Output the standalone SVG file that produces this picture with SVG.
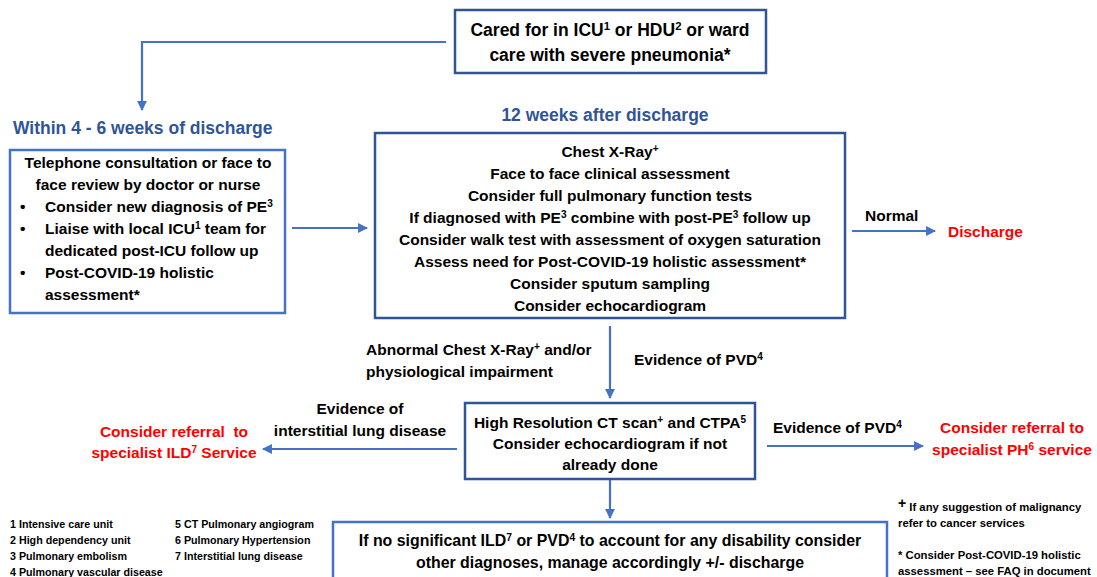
<svg xmlns="http://www.w3.org/2000/svg" width="1097" height="577" viewBox="0 0 1097 577">
<style>
text{font-family:"Liberation Sans",Arial,sans-serif;font-weight:bold;fill:#000}
.m{font-size:15.5px}
.c{text-anchor:middle}
.big{font-size:17.5px}
.bot{font-size:15.9px}
.title{font-size:17.5px;fill:#2F5597}
.red{fill:#FF0000;font-size:15.5px}
.fn{font-size:10.7px}
.fr{font-size:11.3px}
.sup{baseline-shift:super;font-size:65%}
.box{fill:#fff;stroke:#2F5597;stroke-width:2.5}
.box2{fill:#fff;stroke:#4472C4;stroke-width:2.5}
.ln{fill:none;stroke:#4472C4;stroke-width:2.2}
</style>
<defs>
<marker id="ah" viewBox="0 0 10 10" refX="9" refY="5" markerWidth="4.5" markerHeight="4.5" orient="auto" markerUnits="strokeWidth">
<path d="M0,0 L10,5 L0,10 z" fill="#4472C4"/>
</marker>
</defs>
<rect width="1097" height="577" fill="#fff"/>

<g id="connectors">
<polyline class="ln" points="446,42 142,42 142,110" marker-end="url(#ah)"/>
<line class="ln" x1="292" y1="228" x2="367" y2="228" marker-end="url(#ah)"/>
<line class="ln" x1="852" y1="231" x2="935" y2="231" marker-end="url(#ah)"/>
<line class="ln" x1="610" y1="326" x2="610" y2="398" marker-end="url(#ah)"/>
<line class="ln" x1="457" y1="449" x2="263" y2="449" marker-end="url(#ah)"/>
<line class="ln" x1="767" y1="446" x2="923" y2="446" marker-end="url(#ah)"/>
<line class="ln" x1="610" y1="479" x2="610" y2="518" marker-end="url(#ah)"/>
<text class="m" x="865" y="221">Normal</text>
<text class="m" x="366" y="355">Abnormal Chest X-Ray<tspan class="sup">+</tspan> and/or</text>
<text class="m" x="366" y="377">physiological impairment</text>
<text class="m" x="634" y="365">Evidence of PVD<tspan class="sup">4</tspan></text>
<text class="m c" x="360" y="414">Evidence of</text>
<text class="m c" x="360" y="436">interstitial lung disease</text>
<text class="m" x="773" y="433">Evidence of PVD<tspan class="sup">4</tspan></text>
</g>

<g id="start">
<rect class="box" x="455" y="10" width="311" height="63"/>
<text class="big c" x="610" y="36">Cared for in ICU<tspan class="sup">1</tspan> or HDU<tspan class="sup">2</tspan> or ward</text>
<text class="big c" x="610" y="61">care with severe pneumonia*</text>
</g>

<g id="early">
<text class="title" x="13" y="134">Within 4 - 6 weeks of discharge</text>
<rect class="box2" x="10" y="150" width="275" height="163"/>
<text class="m c" x="148" y="168">Telephone consultation or face to</text>
<text class="m c" x="148" y="190">face review by doctor or nurse</text>
<text class="m" x="20" y="212">•</text>
<text class="m" x="45" y="212">Consider new diagnosis of PE<tspan class="sup">3</tspan></text>
<text class="m" x="20" y="234">•</text>
<text class="m" x="45" y="234">Liaise with local ICU<tspan class="sup">1</tspan> team for</text>
<text class="m" x="45" y="256">dedicated post-ICU follow up</text>
<text class="m" x="20" y="278">•</text>
<text class="m" x="45" y="278">Post-COVID-19 holistic</text>
<text class="m" x="45" y="300">assessment*</text>
</g>

<g id="week12">
<text class="title c" x="605" y="121">12 weeks after discharge</text>
<rect class="box" x="375" y="133" width="470" height="185"/>
<text class="m c" x="610" y="157">Chest X-Ray<tspan class="sup">+</tspan></text>
<text class="m c" x="610" y="179">Face to face clinical assessment</text>
<text class="m c" x="610" y="201">Consider full pulmonary function tests</text>
<text class="m c" x="610" y="223">If diagnosed with PE<tspan class="sup">3</tspan> combine with post-PE<tspan class="sup">3</tspan> follow up</text>
<text class="m c" x="610" y="245">Consider walk test with assessment of oxygen saturation</text>
<text class="m c" x="610" y="267">Assess need for Post-COVID-19 holistic assessment*</text>
<text class="m c" x="610" y="289">Consider sputum sampling</text>
<text class="m c" x="610" y="311">Consider echocardiogram</text>
</g>

<g id="discharge">
<text class="red" x="948" y="237">Discharge</text>
</g>

<g id="ct">
<rect class="box" x="465" y="403" width="290" height="76"/>
<text class="m c" x="610" y="428">High Resolution CT scan<tspan class="sup">+</tspan> and CTPA<tspan class="sup">5</tspan></text>
<text class="m c" x="610" y="449">Consider echocardiogram if not</text>
<text class="m c" x="610" y="470">already done</text>
</g>

<g id="ild">
<text class="red c" x="174" y="437">Consider referral&#160; to</text>
<text class="red c" x="174" y="458">specialist ILD<tspan class="sup">7</tspan> Service</text>
</g>

<g id="ph">
<text class="red c" x="1012" y="433">Consider referral to</text>
<text class="red c" x="1012" y="455">specialist PH<tspan class="sup">6</tspan> service</text>
</g>

<g id="other">
<rect class="box2" x="333" y="522" width="554" height="60"/>
<text class="bot c" x="610" y="546">If no significant ILD<tspan class="sup">7</tspan> or PVD<tspan class="sup">4</tspan> to account for any disability consider</text>
<text class="bot c" x="610" y="568">other diagnoses, manage accordingly +/- discharge</text>
</g>

<g id="footnotes">
<text class="fn" x="10" y="528">1 Intensive care unit</text>
<text class="fn" x="10" y="544">2 High dependency unit</text>
<text class="fn" x="10" y="560">3 Pulmonary embolism</text>
<text class="fn" x="10" y="576">4 Pulmonary vascular disease</text>
<text class="fn" x="175" y="528">5 CT Pulmonary angiogram</text>
<text class="fn" x="175" y="544">6 Pulmonary Hypertension</text>
<text class="fn" x="175" y="560">7 Interstitial lung disease</text>
<text class="fr" x="898" y="511"><tspan font-size="14" dy="-3">+</tspan><tspan dy="3"> If any suggestion of malignancy</tspan></text>
<text class="fr" x="898" y="527">refer to cancer services</text>
<text class="fr" x="898" y="559">* Consider Post-COVID-19 holistic</text>
<text class="fr" x="898" y="575">assessment – see FAQ in document</text>
</g>
</svg>
